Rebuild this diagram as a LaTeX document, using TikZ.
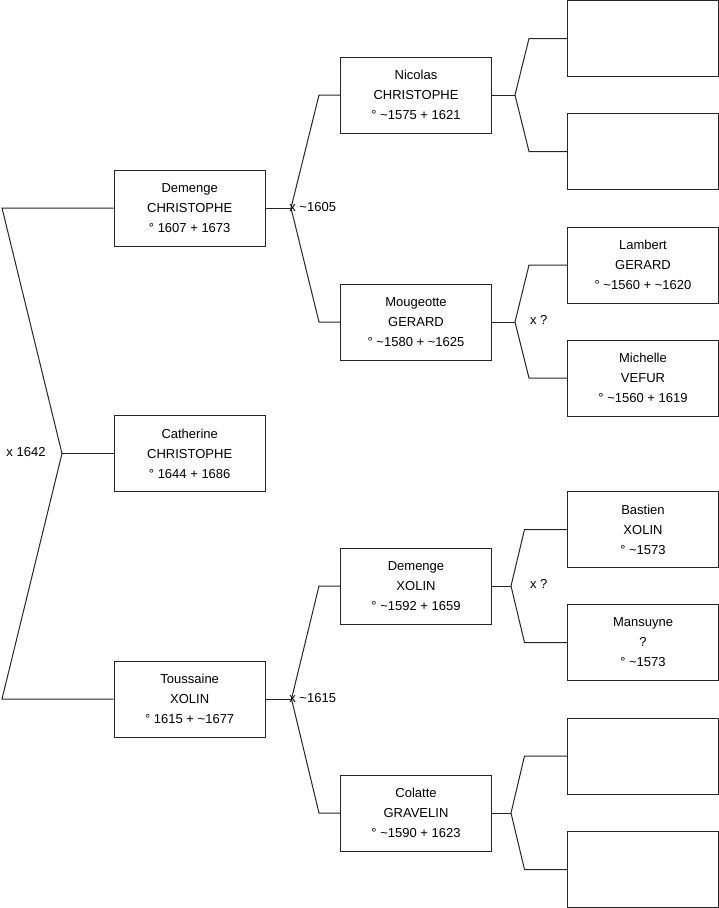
\documentclass[tikz,border=0pt]{standalone}
\usepackage{fontspec}
\setmainfont{Liberation Sans}
\begin{document}
\begin{tikzpicture}[x=1pt,y=-1pt,
 person/.style={draw=black!85, line width=1pt, minimum width=151pt, minimum height=76pt, inner sep=0pt, align=center, font=\fontsize{13}{20}\selectfont},
 lbl/.style={inner sep=0pt, font=\fontsize{13}{16}\selectfont},
 link/.style={draw=black!85, line width=1pt}]
\useasboundingbox (0,0) rectangle (719,908);
% generation 1-2
\node[person] (dc) at (189.7,208) {Demenge\\CHRISTOPHE\\° 1607 + 1673};
\node[person] (cat) at (189.7,453.5) {Catherine\\CHRISTOPHE\\° 1644 + 1686};
\node[person] (tx) at (189.7,699) {Toussaine\\XOLIN\\° 1615 + \textasciitilde1677};
% generation 3
\node[person] (nic) at (416,95) {Nicolas\\CHRISTOPHE\\° \textasciitilde1575 + 1621};
\node[person] (moug) at (416,322) {Mougeotte\\GERARD\\° \textasciitilde1580 + \textasciitilde1625};
\node[person] (dx) at (416,586) {Demenge\\XOLIN\\° \textasciitilde1592 + 1659};
\node[person] (col) at (416,813) {Colatte\\GRAVELIN\\° \textasciitilde1590 + 1623};
% generation 4
\node[person] (r1) at (643,38.5) {};
\node[person] (r2) at (643,151.5) {};
\node[person] (r3) at (643,265) {Lambert\\GERARD\\° \textasciitilde1560 + \textasciitilde1620};
\node[person] (r4) at (643,378) {Michelle\\VEFUR\\° \textasciitilde1560 + 1619};
\node[person] (r5) at (643,529.5) {Bastien\\XOLIN\\° \textasciitilde1573};
\node[person] (r6) at (643,642.5) {Mansuyne\\?\\° \textasciitilde1573};
\node[person] (r7) at (643,756) {};
\node[person] (r8) at (643,869.5) {};
% fork points
\coordinate (f0) at (62,453.5);
\coordinate (f0a) at (2,208);
\coordinate (f0b) at (2,699);
\coordinate (f1) at (291,208);
\coordinate (f1a) at (319,95);
\coordinate (f1b) at (319,322);
\coordinate (f2) at (515,95);
\coordinate (f2a) at (529,38.5);
\coordinate (f2b) at (529,151.5);
\coordinate (f3) at (515,322);
\coordinate (f3a) at (529,265);
\coordinate (f3b) at (529,378);
\coordinate (f4) at (291.5,699);
\coordinate (f4a) at (319,586);
\coordinate (f4b) at (319,813);
\coordinate (f5) at (511,586);
\coordinate (f5a) at (524.5,529.5);
\coordinate (f5b) at (524.5,642.5);
\coordinate (f6) at (511,813);
\coordinate (f6a) at (524.5,756);
\coordinate (f6b) at (524.5,869.5);
% connectors
\draw[link] (dc.west) -- (f0a) -- (f0) -- (f0b) -- (tx.west);
\draw[link] (f0) -- (cat.west);
\draw[link] (dc.east) -- (f1);
\draw[link] (nic.west) -- (f1a) -- (f1) -- (f1b) -- (moug.west);
\draw[link] (tx.east) -- (f4);
\draw[link] (dx.west) -- (f4a) -- (f4) -- (f4b) -- (col.west);
\draw[link] (nic.east) -- (f2);
\draw[link] (r1.west) -- (f2a) -- (f2) -- (f2b) -- (r2.west);
\draw[link] (moug.east) -- (f3);
\draw[link] (r3.west) -- (f3a) -- (f3) -- (f3b) -- (r4.west);
\draw[link] (dx.east) -- (f5);
\draw[link] (r5.west) -- (f5a) -- (f5) -- (f5b) -- (r6.west);
\draw[link] (col.east) -- (f6);
\draw[link] (r7.west) -- (f6a) -- (f6) -- (f6b) -- (r8.west);
% marriage labels
\node[lbl] (m0) at (26,452) {x 1642};
\node[lbl] (m1) at (312.7,207) {x \textasciitilde1605};
\node[lbl] (m2) at (538.7,320) {x ?};
\node[lbl] (m3) at (538.7,584) {x ?};
\node[lbl] (m4) at (312.7,698) {x \textasciitilde1615};
\end{tikzpicture}
\end{document}
